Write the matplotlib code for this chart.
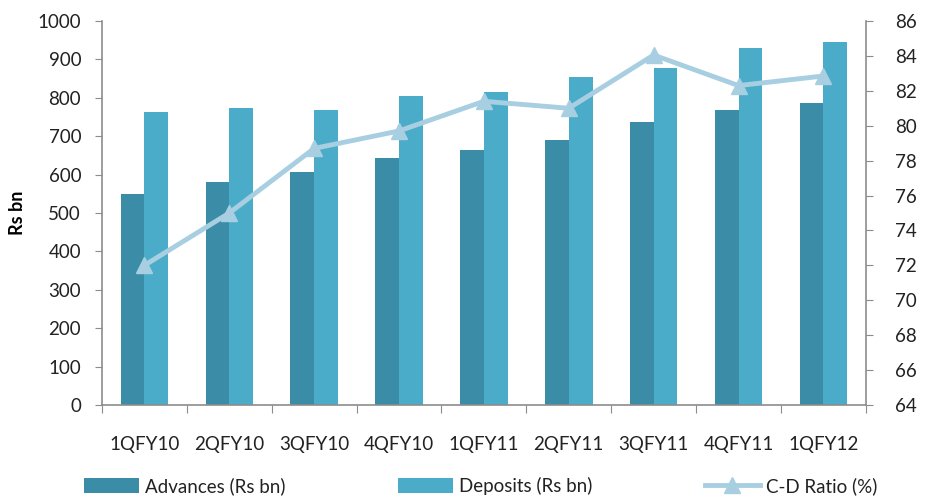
import numpy as np
import matplotlib
matplotlib.use('Agg')
from matplotlib import pyplot as plt

quarters = ['1QFY10', '2QFY10', '3QFY10', '4QFY10', '1QFY11',
            '2QFY11', '3QFY11', '4QFY11', '1QFY12']
advances = [549, 581, 607, 643, 664, 690, 737, 768, 787]
deposits = [763, 773, 768, 805, 815, 854, 877, 930, 945]
cd_ratio = [72.0, 75.0, 78.7, 79.7, 81.4, 81.0, 84.05, 82.3, 82.85]

ADV_COL = '#3b8ca6'
DEP_COL = '#4bacc9'
LINE_COL = '#a8cfe1'
TXT = '#222222'
SPINE = '#8c8c8c'

plt.rcParams['font.family'] = ['Lato', 'DejaVu Sans']

fig = plt.figure(figsize=(9.32, 5.0), dpi=100)
ax = fig.add_axes([0.1094, 0.19, 0.8196, 0.768])
ax2 = ax.twinx()

x = np.arange(len(quarters))
w = 0.28
b1 = ax.bar(x - w / 2, advances, w, color=ADV_COL, label='Advances (Rs bn)')
b2 = ax.bar(x + w / 2, deposits, w, color=DEP_COL, label='Deposits (Rs bn)')

ln, = ax2.plot(x, cd_ratio, color=LINE_COL, lw=3.5, marker='^',
               markersize=12, label='C-D Ratio (%)')

ax.set_xlim(-0.5, len(quarters) - 0.5)
ax.set_ylim(0, 1000)
ax.set_yticks(np.arange(0, 1001, 100))
ax2.set_ylim(64, 86)
ax2.set_yticks(np.arange(64, 87, 2))

# category boundaries as ticks, labels at centres
ax.set_xticks(np.arange(-0.5, len(quarters), 1.0))
ax.set_xticklabels([])
ax.set_xticks(x, minor=True)
ax.set_xticklabels(quarters, minor=True)
ax.tick_params(axis='x', which='minor', length=0, pad=22, labelsize=13.5, labelcolor=TXT)
ax.tick_params(axis='x', which='major', length=6, color=SPINE, direction='out')

ax.tick_params(axis='y', length=5, color=SPINE, labelsize=13.5, labelcolor=TXT, pad=10)
ax2.tick_params(axis='y', length=5, color=SPINE, labelsize=13.5, labelcolor=TXT, pad=16)

for a in (ax, ax2):
    a.spines['top'].set_visible(False)
    for s in ('left', 'right', 'bottom'):
        a.spines[s].set_color(SPINE)
        a.spines[s].set_linewidth(1.2)
ax.spines['right'].set_visible(False)
ax2.spines['left'].set_visible(False)
ax2.spines['bottom'].set_visible(False)

ax.set_ylabel('Rs bn', fontsize=13, fontweight='bold', color='black', labelpad=8)

fig.legend(handles=[b1, b2, ln], loc='center', bbox_to_anchor=(0.516, 0.028),
           ncol=3, frameon=False, fontsize=13.5, handlelength=2.9,
           handleheight=0.8, columnspacing=6.0, handletextpad=0.35,
           labelcolor=TXT)

fig.savefig('out.png', dpi=100)
